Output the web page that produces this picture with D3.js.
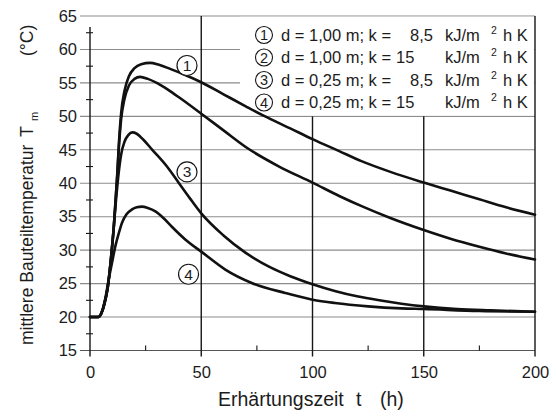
<!DOCTYPE html>
<html>
<head>
<meta charset="utf-8">
<script src="https://cdn.jsdelivr.net/npm/d3@7"></script>
<style>
  html, body { margin: 0; padding: 0; background: #fff; }
  svg { display: block; }
  text { font-family: "Liberation Sans", Arial, Helvetica, sans-serif; fill: #1c1c1c; }
</style>
</head>
<body>
<svg id="chart" width="556" height="419"></svg>
<script>
// Axis ticks
const xTicks = [0, 50, 100, 150, 200];
const xMinorTicks = [25, 75, 125, 175];
const yTicks = [15, 20, 25, 30, 35, 40, 45, 50, 55, 60, 65];
const yMinorTicks = [17.5, 22.5, 27.5, 32.5, 37.5, 42.5, 47.5, 52.5, 57.5, 62.5];

// Mean member temperature T_m (°C) over hardening time t (h): [t, T]
const curve1 = [[0,20],[3.7,20],[5,20.5],[6.5,22],[8,24.5],[9.5,29],[10.7,33.5],[11.5,37.5],[12.2,41],[13,46],[14,50.5],[15.5,53.8],[17.5,56],[20,57.2],[23,57.8],[27,58],[31,57.7],[36,57.1],[42,56.3],[50,55.1],[60,53.3],[70,51.5],[78,50.1],[90,48.2],[100,46.6],[112,44.8],[122,43.3],[135,41.7],[150,40.1],[162,38.9],[175,37.6],[187,36.4],[200,35.3]];
const curve2 = [[0,20],[3.7,20],[5,20.5],[6.5,22],[8,24.5],[9.5,29],[10.7,33.5],[11.5,37.5],[12.2,41],[13,45.5],[14,49.6],[15.5,52.6],[17.5,54.6],[20,55.6],[22.5,55.9],[26,55.6],[30,55],[35,54],[40.6,52.7],[50,50.4],[60,47.9],[70.5,45.3],[85,42.5],[100,40.1],[112,38.1],[122.6,36.5],[135,34.8],[150,33],[162,31.7],[175,30.5],[187,29.5],[200,28.6]];
const curve3 = [[0,20],[3.7,20],[5,20.5],[6.5,22],[8,24.5],[9.5,29],[10.7,33.5],[11.7,37.5],[12.7,41],[14,44.3],[15.5,46.2],[17.2,47.2],[19,47.6],[21,47.4],[24,46.5],[28,45],[34.6,42.5],[40,40],[45,37.7],[50,35.5],[60,32.2],[70,29.6],[80,27.6],[90,26.1],[100,24.9],[110,23.9],[120,23.1],[130,22.5],[140,22],[150,21.6],[165,21.2],[180,21],[200,20.8]];
const curve4 = [[0,20],[3.7,20],[5.4,20.8],[7,23],[8.4,25.6],[10,28.3],[11.4,30.6],[13,32.6],[14.4,34.1],[16.5,35.4],[18.9,36.1],[21,36.4],[23.4,36.5],[26,36.3],[29.4,35.8],[33,34.8],[36.8,33.5],[42.8,31.6],[50.3,29.7],[60.8,27.1],[72.7,25.1],[87.7,23.6],[100,22.6],[110,22.1],[125,21.6],[140,21.3],[150,21.2],[175,20.9],[200,20.8]];
const curves = [curve1, curve2, curve3, curve4];

// Legend entries: member thickness d and heat transfer coefficient k
const legendIds = ["1", "2", "3", "4"];
const legendD = ["1,00", "1,00", "0,25", "0,25"];
const legendK = ["8,5", "15", "8,5", "15"];

const svg = d3.select("#chart");

const x = d3.scaleLinear().domain([0, 200]).range([90, 535]);
const y = d3.scaleLinear().domain([15, 65]).range([350.5, 16]);

const ink = "#161616";

// Horizontal grid lines
svg.append("g").selectAll("line").data(yTicks).join("line")
  .attr("x1", 80).attr("x2", x(200))
  .attr("y1", d => y(d)).attr("y2", d => y(d))
  .attr("stroke", d => (d === 15 ? "#555" : "#8c8c8c"))
  .attr("stroke-width", 1.1);

// Legend background hides the grid behind it
const boxLeft = 240;
svg.append("rect")
  .attr("x", boxLeft).attr("y", y(65) + 0.8)
  .attr("width", x(200) - boxLeft - 0.8).attr("height", y(50) - y(65) - 1.6)
  .attr("fill", "#fff");

// Vertical grid lines at the major x ticks
svg.append("g").selectAll("line").data(xTicks.filter(d => d > 0)).join("line")
  .attr("x1", d => x(d)).attr("x2", d => x(d))
  .attr("y1", d => (d === 100 || d === 150) ? y(50) : y(65))
  .attr("y2", y(15) + 6)
  .attr("stroke", ink).attr("stroke-width", 1.4);

// Left axis line
svg.append("line")
  .attr("x1", x(0)).attr("x2", x(0)).attr("y1", 27).attr("y2", y(15) + 6)
  .attr("stroke", ink).attr("stroke-width", 1.4);

// Minor ticks
svg.append("g").selectAll("line").data(yMinorTicks).join("line")
  .attr("x1", x(0) - 4).attr("x2", x(0) + 3)
  .attr("y1", d => y(d)).attr("y2", d => y(d))
  .attr("stroke", ink).attr("stroke-width", 1.1);
svg.append("g").selectAll("line").data(xMinorTicks).join("line")
  .attr("x1", d => x(d)).attr("x2", d => x(d))
  .attr("y1", y(15)).attr("y2", y(15) - 5)
  .attr("stroke", ink).attr("stroke-width", 1.1);

// Tick labels through d3 axes (lines hidden, labels only)
const yAxis = svg.append("g").attr("transform", `translate(${x(0)},0)`)
  .call(d3.axisLeft(y).tickValues(yTicks).tickSize(0).tickPadding(13));
const xAxis = svg.append("g").attr("transform", `translate(0,${y(15)})`)
  .call(d3.axisBottom(x).tickValues(xTicks).tickSize(0).tickPadding(16));
[yAxis, xAxis].forEach(g => {
  g.select(".domain").remove();
  g.selectAll("text").style("font-family", '"Liberation Sans", Arial, sans-serif')
    .style("font-size", "16.5px").attr("fill", "#1c1c1c");
});

// Curves
const line = d3.line().x(d => x(d[0])).y(d => y(d[1])).curve(d3.curveMonotoneX);
svg.append("g").selectAll("path").data(curves).join("path")
  .attr("d", line)
  .attr("fill", "none").attr("stroke", "#111")
  .attr("stroke-width", 2.6).attr("stroke-linejoin", "round").attr("stroke-linecap", "round");

// Circled curve numbers
const curveTags = [{ id: "1", t: 43.6, T: 57.6 }, { id: "3", t: 43.6, T: 41.7 }, { id: "4", t: 44.3, T: 26.4 }];
const tags = svg.append("g").selectAll("g").data(curveTags).join("g")
  .attr("transform", d => `translate(${x(d.t)},${y(d.T)})`);
tags.append("circle").attr("r", 10).attr("fill", "#fff").attr("stroke", ink).attr("stroke-width", 1.2);
tags.append("text").attr("text-anchor", "middle").attr("dy", "0.36em")
  .style("font-size", "15.5px").text(d => d.id);

// Legend rows
const rowY = i => 35 + i * 22.5;
const rows = svg.append("g").selectAll("g").data(legendIds).join("g")
  .attr("transform", (d, i) => `translate(0,${rowY(i)})`);
rows.append("circle").attr("cx", 264).attr("r", 8.5)
  .attr("fill", "#fff").attr("stroke", ink).attr("stroke-width", 1.1);
rows.append("text").attr("x", 264).attr("dy", "0.36em").attr("text-anchor", "middle")
  .style("font-size", "14.5px").text(d => d);
rows.append("text").attr("x", 281).attr("dy", "0.36em").style("font-size", "16.5px")
  .text((d, i) => `d = ${legendD[i]} m; k =`);
rows.append("text").attr("dy", "0.36em").style("font-size", "16.5px")
  .attr("x", (d, i) => legendK[i] === "15" ? 396 : 433)
  .attr("text-anchor", (d, i) => legendK[i] === "15" ? "start" : "end")
  .text((d, i) => legendK[i]);
rows.append("text").attr("x", 445).attr("dy", "0.36em").style("font-size", "16.5px").text("kJ/m");
rows.append("text").attr("x", 491).attr("dy", "-0.12em").style("font-size", "10.5px").text("2");
rows.append("text").attr("x", 503).attr("dy", "0.36em").style("font-size", "16.5px").text("h K");

// Axis titles
const xTitleY = 406;
svg.append("text").attr("x", 218).attr("y", xTitleY).style("font-size", "19.5px").text("Erhärtungszeit");
svg.append("text").attr("x", 356).attr("y", xTitleY).style("font-size", "19.5px").text("t");
svg.append("text").attr("x", 380).attr("y", xTitleY).style("font-size", "19.5px").text("(h)");

const yTitleX = 33;
const rot = (px, py) => `translate(${px},${py}) rotate(-90)`;
svg.append("text").attr("transform", rot(yTitleX, 345)).style("font-size", "17.5px").text("mittlere Bauteiltemperatur");
svg.append("text").attr("transform", rot(yTitleX, 137)).style("font-size", "18px").text("T");
svg.append("text").attr("transform", rot(yTitleX + 5, 121)).style("font-size", "11px").text("m");
svg.append("text").attr("transform", rot(yTitleX, 56)).style("font-size", "17.5px").text("(°C)");
</script>
</body>
</html>
